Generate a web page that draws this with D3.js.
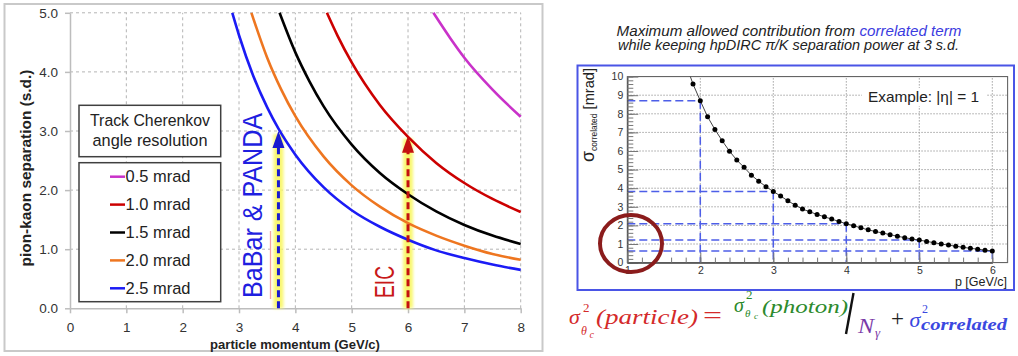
<!DOCTYPE html>
<html><head><meta charset="utf-8">
<script src="https://cdn.jsdelivr.net/npm/d3@7/dist/d3.min.js"></script>
<style>
body{margin:0;background:#fff;}
svg{display:block;font-family:"Liberation Sans",Arial,sans-serif;}
</style></head>
<body>
<script>
// ---------- LEFT PANEL DATA ----------
const resolutionLabels = ["0.5 mrad","1.0 mrad","1.5 mrad","2.0 mrad","2.5 mrad"];
const resolutionColors = ["#c932c9","#cc0000","#000000","#ee7620","#1b1bf5"];
const pRes05 = [6.45,6.75,7.0,7.5,8.0];
const sepRes05 = [5.0,4.57,4.24,3.70,3.24];
const pRes10 = [4.56,4.75,5.0,5.5,6.0,6.5,7.0,7.5,8.0];
const sepRes10 = [5.0,4.61,4.16,3.44,2.90,2.46,2.12,1.85,1.63];
const pRes15 = [3.72,4.0,4.25,4.5,5.0,5.5,6.0,6.5,7.0,7.5,8.0];
const sepRes15 = [5.0,4.33,3.84,3.42,2.77,2.29,1.93,1.64,1.41,1.23,1.09];
const pRes20 = [3.22,3.5,3.75,4.0,4.5,5.0,5.5,6.0,6.5,7.0,7.5,8.0];
const sepRes20 = [5.0,4.24,3.70,3.25,2.57,2.08,1.72,1.44,1.23,1.06,0.92,0.82];
const pRes25 = [2.88,3.0,3.25,3.5,3.7,4.0,4.5,5.0,5.5,6.0,6.5,7.0,7.5,8.0];
const sepRes25 = [5.0,4.62,3.94,3.40,3.04,2.60,2.05,1.66,1.38,1.16,0.98,0.85,0.74,0.65];
const leftXTicks = [0,1,2,3,4,5,6,7,8];
const leftYTicks = [0,1,2,3,4,5];
const arrowP = [3.7, 6.0];
const arrowSep = [3.0, 2.92];
const arrowLabels = ["BaBar & PANDA","EIC"];

// ---------- RIGHT PANEL DATA ----------
const corrP = [1.8,1.9,2.0,2.1,2.2,2.3,2.4,2.5,2.6,2.7,2.8,2.9,3.0,3.1,3.2,3.3,3.4,3.5,3.6,3.7,3.8,3.9,4.0,4.1,4.2,4.3,4.4,4.5,4.6,4.7,4.8,4.9,5.0,5.1,5.2,5.3,5.4,5.5,5.6,5.7,5.8,5.9,6.0];
const corrSigma = [10.7,9.6,8.7,7.84,7.16,6.55,5.99,5.51,5.12,4.70,4.38,4.08,3.82,3.58,3.32,3.09,2.88,2.73,2.59,2.46,2.34,2.21,2.09,1.98,1.87,1.76,1.67,1.59,1.50,1.42,1.34,1.27,1.21,1.14,1.07,1.00,0.94,0.88,0.82,0.77,0.72,0.67,0.63];
const markedP = [2,3,4,5,6];
const rightXTicks = [1,2,3,4,5,6];
const rightYTicks = [0,1,2,3,4,5,6,7,8,9,10];

const W = 1018, H = 356;
const svg = d3.select("body").append("svg").attr("width",W).attr("height",H);
const defs = svg.append("defs");
defs.append("filter").attr("id","glow").attr("x","-1").attr("y","-0.2").attr("width","3").attr("height","1.4")
  .append("feGaussianBlur").attr("stdDeviation",1.8);

function fitWidth(sel, w){
  const n = sel.node(); const cur = n.getComputedTextLength();
  const fs = parseFloat(sel.style("font-size"));
  sel.style("font-size", (fs*w/cur).toFixed(2)+"px");
}

// ================= LEFT PANEL =================
svg.append("rect").attr("x",4.5).attr("y",4).attr("width",538).attr("height",347)
  .attr("fill","none").attr("stroke","#c9c9c9").attr("stroke-width",2);

const xL = d3.scaleLinear([0,8],[70,520.7]);
const yL = d3.scaleLinear([0,5],[308.3,12.8]);
const gL = svg.append("g");

// grid
gL.selectAll(".vg").data(leftXTicks.filter(d=>d>0)).join("line")
  .attr("x1",d=>xL(d)).attr("x2",d=>xL(d)).attr("y1",yL(0)).attr("y2",yL(5))
  .attr("stroke","#b4b4b4").attr("stroke-dasharray","3,3").attr("stroke-width",1);
gL.selectAll(".hg").data(leftYTicks.filter(d=>d>0)).join("line")
  .attr("x1",xL(0)).attr("x2",xL(8)).attr("y1",d=>yL(d)).attr("y2",d=>yL(d))
  .attr("stroke","#b4b4b4").attr("stroke-dasharray","3,3").attr("stroke-width",1);

// axes
const axL = gL.append("g").attr("transform",`translate(${xL(0)},0)`)
  .call(d3.axisLeft(yL).tickValues(leftYTicks).tickFormat(d3.format(".1f")).tickSize(5).tickSizeOuter(0).tickPadding(7));
const axB = gL.append("g").attr("transform",`translate(0,${yL(0)})`)
  .call(d3.axisBottom(xL).tickValues(leftXTicks).tickFormat(d3.format("d")).tickSize(5).tickSizeOuter(0).tickPadding(9));
[axL,axB].forEach(a=>{
  a.select(".domain").attr("stroke","#bdbdbd").attr("stroke-width",1.5);
  a.selectAll(".tick line").attr("stroke","#bdbdbd").attr("stroke-width",1.5);
  a.selectAll(".tick text").attr("fill","#333").style("font-size","13.5px").style("font-family","Liberation Sans, Arial");
});

// axis titles
const yTitle = gL.append("text").attr("transform","translate(31,168) rotate(-90)").attr("text-anchor","middle")
  .style("font-weight","bold").style("font-size","13px").attr("fill","#222").text("pion-kaon separation (s.d.)");
fitWidth(yTitle,197);
const xTitle = gL.append("text").attr("x",295).attr("y",349).attr("text-anchor","middle")
  .style("font-weight","bold").style("font-size","12px").attr("fill","#222").text("particle momentum (GeV/c)");
fitWidth(xTitle,170);

// annotation glows
const arrowColors = ["#1a1ad0","#c41010"];
arrowP.forEach((p,i)=>{
  gL.append("rect").attr("x",xL(p)-5).attr("width",10).attr("y",yL(arrowSep[i])+3).attr("height",yL(0)-yL(arrowSep[i])-3)
    .attr("fill","#f9f76a").attr("opacity",0.95).attr("filter","url(#glow)");
});

// curves
const seriesP = [pRes05,pRes10,pRes15,pRes20,pRes25];
const seriesS = [sepRes05,sepRes10,sepRes15,sepRes20,sepRes25];
const lineL = d3.line().x(d=>xL(d[0])).y(d=>yL(d[1])).curve(d3.curveMonotoneX);
seriesP.forEach((ps,i)=>{
  gL.append("path").attr("d",lineL(ps.map((p,j)=>[p,seriesS[i][j]])))
    .attr("fill","none").attr("stroke",resolutionColors[i]).attr("stroke-width",2.6);
});

// arrows
arrowP.forEach((p,i)=>{
  const tipY = yL(arrowSep[i]);
  gL.append("line").attr("x1",xL(p)).attr("x2",xL(p)).attr("y1",yL(0)).attr("y2",tipY+14)
    .attr("stroke",arrowColors[i]).attr("stroke-width",3).attr("stroke-dasharray","7,4");
  gL.append("path").attr("d",`M${xL(p)},${tipY} L${xL(p)-6},${tipY+17} L${xL(p)+6},${tipY+17} Z`)
    .attr("fill",arrowColors[i]);
});

// annotation labels
gL.append("line").attr("x1",270.5).attr("x2",270.5).attr("y1",231).attr("y2",299)
  .attr("stroke","#f2a3a3").attr("stroke-width",1.3);
const lab1 = gL.append("text").attr("transform","translate(262,298) rotate(-90)")
  .style("font-size","28px").attr("fill","#1f1fe0").text(arrowLabels[0]);
lab1.attr("textLength",185).attr("lengthAdjust","spacingAndGlyphs");
const lab2 = gL.append("text").attr("transform","translate(393.5,298) rotate(-90)")
  .style("font-size","28px").attr("fill","#c81818").text(arrowLabels[1]);
lab2.attr("textLength",32).attr("lengthAdjust","spacingAndGlyphs");

// legend
gL.append("rect").attr("x",79).attr("y",105.3).attr("width",141.7).attr("height",51.4)
  .attr("fill","#fff").attr("stroke","#404040").attr("stroke-width",1.5);
const lt1 = gL.append("text").attr("x",150).attr("y",126).attr("text-anchor","middle").style("font-size","15px").attr("fill","#222").text("Track Cherenkov");
fitWidth(lt1,120);
const lt2 = gL.append("text").attr("x",150).attr("y",145.5).attr("text-anchor","middle").style("font-size","15px").attr("fill","#222").text("angle resolution");
fitWidth(lt2,115);
gL.append("rect").attr("x",79).attr("y",162.7).attr("width",141.7).attr("height",139)
  .attr("fill","#fff").attr("stroke","#404040").attr("stroke-width",1.5);
const legY = d3.scalePoint().domain(resolutionLabels).range([176.7,288.3]);
resolutionLabels.forEach((lab,i)=>{
  gL.append("line").attr("x1",110).attr("x2",125).attr("y1",legY(lab)).attr("y2",legY(lab))
    .attr("stroke",resolutionColors[i]).attr("stroke-width",2.5);
  const t = gL.append("text").attr("x",125.5).attr("y",legY(lab)+5.5).style("font-size","15px").attr("fill","#222").text(lab);
  fitWidth(t,65);
});

// ================= RIGHT PANEL =================
const tl1 = svg.append("text").attr("x",789).attr("y",35.5).attr("text-anchor","middle")
  .style("font-style","italic").style("font-size","13.5px").attr("fill","#222");
tl1.append("tspan").text("Maximum allowed contribution from ");
tl1.append("tspan").attr("fill","#3b3be0").text("correlated term");
fitWidth(tl1,345);
const tl2 = svg.append("text").attr("x",788.5).attr("y",50).attr("text-anchor","middle")
  .style("font-style","italic").style("font-size","13.5px").attr("fill","#222")
  .text("while keeping hpDIRC \u03c0/K separation power at 3 s.d.");
fitWidth(tl2,341);

svg.append("rect").attr("x",577.5).attr("y",65.5).attr("width",436.5).attr("height",224.5)
  .attr("fill","none").attr("stroke","#4a55e6").attr("stroke-width",2);

const xR = d3.scaleLinear([1,6],[627.3,992.3]);
const yR = d3.scaleLinear([0,10],[262.6,76.6]);
const xMaxR = 6.21;
const gR = svg.append("g");

// grid
gR.selectAll(".vg").data(rightXTicks.filter(d=>d>1)).join("line")
  .attr("x1",d=>xR(d)).attr("x2",d=>xR(d)).attr("y1",yR(0)).attr("y2",yR(10))
  .attr("stroke","#9a9a9a").attr("stroke-dasharray","1.5,1.5").attr("stroke-width",0.9);
gR.selectAll(".hg").data(rightYTicks.filter(d=>d>0 && d<10)).join("line")
  .attr("x1",xR(1)).attr("x2",xR(xMaxR)).attr("y1",d=>yR(d)).attr("y2",d=>yR(d))
  .attr("stroke","#9a9a9a").attr("stroke-dasharray","1.5,1.5").attr("stroke-width",0.9);

// example label with white box
gR.append("rect").attr("x",862).attr("y",88).attr("width",124).attr("height",18).attr("fill","#fff");
const ex = gR.append("text").attr("x",868).attr("y",102).style("font-size","13px").attr("fill","#222").text("Example: |\u03b7| = 1");
fitWidth(ex,111);

// dashed guide lines
const guide = markedP.map(p=>[p, corrSigma[corrP.findIndex(q=>Math.abs(q-p)<1e-6)]]);
guide.forEach(([p,v])=>{
  gR.append("line").attr("x1",xR(1)).attr("x2",xR(p)).attr("y1",yR(v)).attr("y2",yR(v))
    .attr("stroke","#4d5ee8").attr("stroke-width",1.5).attr("stroke-dasharray","8,4");
  gR.append("line").attr("x1",xR(p)).attr("x2",xR(p)).attr("y1",yR(v)).attr("y2",yR(0))
    .attr("stroke","#4d5ee8").attr("stroke-width",1.5).attr("stroke-dasharray","8,4");
});

// frame
gR.append("rect").attr("x",xR(1)).attr("y",yR(10)).attr("width",xR(xMaxR)-xR(1)).attr("height",yR(0)-yR(10))
  .attr("fill","none").attr("stroke","#555").attr("stroke-width",1);

// axes
const ayR = gR.append("g").attr("transform",`translate(${xR(1)},0)`)
  .call(d3.axisLeft(yR).tickValues(rightYTicks).tickFormat(d3.format("d")).tickSize(-11).tickSizeOuter(0).tickPadding(4));
const ayRm = gR.append("g").attr("transform",`translate(${xR(1)},0)`)
  .call(d3.axisLeft(yR).tickValues(d3.range(0,10.01,0.2)).tickFormat("").tickSize(-6).tickSizeOuter(0));
const axR = gR.append("g").attr("transform",`translate(0,${yR(0)})`)
  .call(d3.axisBottom(xR).tickValues(rightXTicks).tickFormat(d3.format("d")).tickSize(-10).tickSizeOuter(0).tickPadding(4));
const axRm = gR.append("g").attr("transform",`translate(0,${yR(0)})`)
  .call(d3.axisBottom(xR).tickValues(d3.range(1,6.21,0.2)).tickFormat("").tickSize(-5).tickSizeOuter(0));
[ayR,ayRm,axR,axRm].forEach(a=>{
  a.select(".domain").attr("stroke","#555").attr("stroke-width",1);
  a.selectAll(".tick line").attr("stroke","#777").attr("stroke-width",1);
  a.selectAll(".tick text").attr("fill","#333").style("font-size","10.5px");
});

// axis labels
const xlR = gR.append("text").attr("x",1007).attr("y",286).attr("text-anchor","end").style("font-size","12.5px").attr("fill","#222").text("p [GeV/c]");
const ylR = gR.append("text").attr("transform","translate(594,115) rotate(-90)").attr("text-anchor","middle").attr("fill","#222").style("font-size","12px");
ylR.append("tspan").style("font-size","1.15em").text("\u03c3");
ylR.append("tspan").style("font-size","0.55em").attr("dy","0.3em").text("correlated");
ylR.append("tspan").style("font-size","0.95em").attr("dy","-0.2em").text(" [mrad]");
fitWidth(ylR,94);

// curve + markers
defs.append("clipPath").attr("id","clipR").append("rect")
  .attr("x",xR(1)).attr("y",yR(10)).attr("width",xR(xMaxR)-xR(1)).attr("height",yR(0)-yR(10));
const gData = gR.append("g").attr("clip-path","url(#clipR)");
const lineR = d3.line().x((d,i)=>xR(corrP[i])).y(d=>yR(d));
gData.append("path").attr("d",lineR(corrSigma)).attr("fill","none").attr("stroke","#444").attr("stroke-width",1);
gData.selectAll("circle").data(corrSigma).join("circle")
  .attr("cx",(d,i)=>xR(corrP[i])).attr("cy",d=>yR(d)).attr("r",2.5).attr("fill","#000");

// red circle highlight
gR.append("ellipse").attr("cx",631).attr("cy",243.5).attr("rx",31).attr("ry",28.5)
  .attr("fill","none").attr("stroke","#8b1c1c").attr("stroke-width",4);

// ---------- equation ----------
const ser = "Liberation Serif, DejaVu Serif, serif";
const eq = svg.append("g").style("font-family",ser).style("font-style","italic");
function t(x,y,s,size,col,extra){
  const e = eq.append("text").attr("x",x).attr("y",y).style("font-size",size+"px").attr("fill",col).text(s);
  if(extra) extra(e); return e;
}
const red="#d42a2a", green="#2c8a2c", purple="#7a3aa8", blue="#3a48e0";
t(569,323.5,"\u03c3",22,red);
t(583,312,"2",13,red,e=>e.style("font-style","normal"));
t(581,335,"\u03b8",12,red);
t(589.5,338,"c",10,red);
t(596,323.5,"(particle)",21,red,e=>e.attr("textLength",102).attr("lengthAdjust","spacingAndGlyphs"));
t(703,323,"=",24,red,e=>e.style("font-style","normal").attr("textLength",19).attr("lengthAdjust","spacingAndGlyphs"));
t(734,311.5,"\u03c3",20,green);
t(746,298.5,"2",13,green,e=>e.style("font-style","normal"));
t(745,316.5,"\u03b8",11,green);
t(754,319,"c",9,green);
t(762,313,"(photon)",19,green,e=>e.attr("textLength",86).attr("lengthAdjust","spacingAndGlyphs"));
eq.append("line").attr("x1",853.5).attr("y1",293).attr("x2",846).attr("y2",334).attr("stroke","#111").attr("stroke-width",2.4);
t(858,333,"N",21,purple,e=>e.attr("textLength",16).attr("lengthAdjust","spacingAndGlyphs"));
t(875,337,"\u03b3",13,purple);
t(891,326,"+",23,"#222",e=>e.style("font-style","normal"));
t(909.5,326.5,"\u03c3",22,blue);
t(922,312.5,"2",12,blue,e=>e.style("font-style","normal"));
t(921,329.5,"correlated",17,blue,e=>e.style("font-weight","bold").attr("textLength",86).attr("lengthAdjust","spacingAndGlyphs"));
</script>
</body></html>
